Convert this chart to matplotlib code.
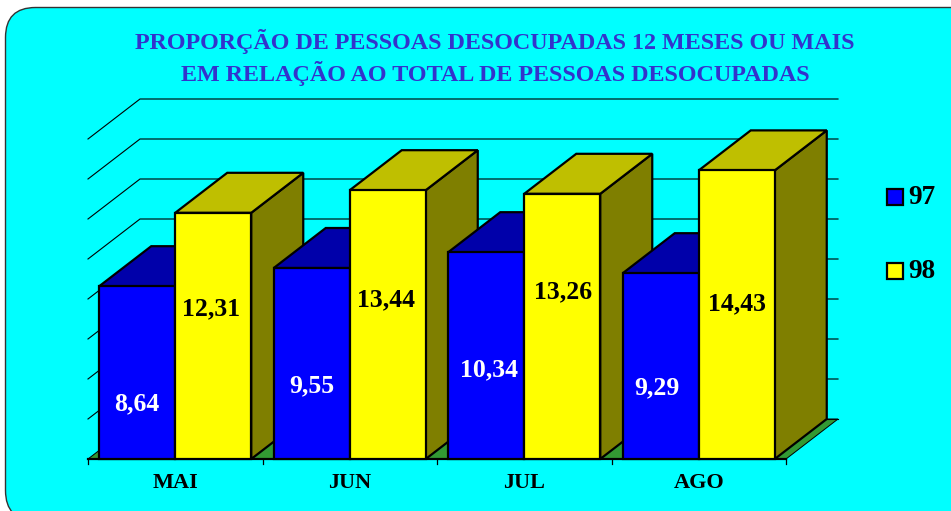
import matplotlib
matplotlib.use("Agg")
import matplotlib.pyplot as plt
from matplotlib.patches import FancyBboxPatch, Polygon

plt.rcParams["font.family"] = ["Liberation Serif", "DejaVu Serif"]

meses = ["MAI", "JUN", "JUL", "AGO"]
serie_97 = [8.64, 9.55, 10.34, 9.29]
serie_98 = [12.31, 13.44, 13.26, 14.43]
nomes = ["97", "98"]
grid_vals = [0, 2, 4, 6, 8, 10, 12, 14, 16]

# where the labels sit inside the bars (value units, offset in categories)
label_y_97 = [2.75, 3.68, 4.47, 3.55]
label_y_98 = [7.52, 7.95, 8.35, 7.75]
label_dx_97 = [-0.005, 0.0, 0.015, -0.02]
label_dx_98 = [-0.01, -0.01, 0.005, 0.0]

W, H = 951, 511
BAR_W = 76 / 174.5
DX = 52 / 174.5  # depth in category units
DY = 2.0         # depth in value units

fig = plt.figure(figsize=(W / 100, H / 100), dpi=100, facecolor="white")

# rounded panel behind everything
bg = fig.add_axes([0, 0, 1, 1])
bg.set_xlim(0, W)
bg.set_ylim(H, 0)
bg.axis("off")
bg.add_patch(FancyBboxPatch((5.5, 7.5), W + 40, H + 2, boxstyle="round,pad=0,rounding_size=30",
                            fc="#00FFFF", ec="#333333", lw=1.0))

# plot axes: x in categories, y in values
ax = fig.add_axes([88 / W, (H - 459) / H, 698 / W, 320 / H])
ax.set_xlim(0, 4)
ax.set_ylim(0, 16)
ax.axis("off")


def box(x, w, v, front, top, side, z):
    ax.add_patch(Polygon([(x + w, 0), (x + w + DX, DY), (x + w + DX, v + DY), (x + w, v)],
                         fc=side, ec="black", lw=1.6, zorder=z, clip_on=False, joinstyle="miter"))
    ax.add_patch(Polygon([(x, v), (x + w, v), (x + w + DX, v + DY), (x + DX, v + DY)],
                         fc=top, ec="black", lw=1.6, zorder=z, clip_on=False, joinstyle="miter"))
    ax.add_patch(Polygon([(x, 0), (x + w, 0), (x + w, v), (x, v)],
                         fc=front, ec="black", lw=1.6, zorder=z, clip_on=False, joinstyle="miter"))


# floor and gridlines
ax.add_patch(Polygon([(0, 0), (4, 0), (4 + DX, DY), (DX, DY)], fc="#339933", ec="black", lw=0.7,
                     zorder=1, clip_on=False))
for g in grid_vals[1:]:
    ax.plot([0, DX, 4 + DX], [g, g + DY, g + DY], color="black", lw=0.8, zorder=1.5, clip_on=False)
ax.plot([DX, 4 + DX], [DY, DY], color="black", lw=0.8, zorder=1.5, clip_on=False)

# axis line and ticks
ax.plot([0, 4], [0, 0], color="black", lw=1.6, zorder=1.6, clip_on=False)
for i in range(5):
    ax.plot([i, i], [0, -0.27], color="black", lw=0.9, zorder=1.6, clip_on=False)

# bars, left to right so later ones cover the sides of earlier ones
for i in range(len(meses)):
    c = i + 0.5
    box(c - BAR_W, BAR_W, serie_97[i], "#0000FF", "#0000AA", "#00007F", 2 + i)
    box(c, BAR_W, serie_98[i], "#FFFF00", "#BFBF00", "#7F7F00", 2.5 + i)
    ax.text(c - BAR_W / 2 + label_dx_97[i], label_y_97[i], f"{serie_97[i]:.2f}".replace(".", ","),
            color="white", fontsize=18.5, fontweight="bold", ha="center", va="center", zorder=10)
    ax.text(c + BAR_W / 2 + label_dx_98[i], label_y_98[i], f"{serie_98[i]:.2f}".replace(".", ","),
            color="black", fontsize=18.5, fontweight="bold", ha="center", va="center", zorder=10)
    ax.text(c, -1.22, meses[i], color="black", fontsize=16, fontweight="bold", ha="center", va="center")

# title
bg.text(495, 41, "PROPORÇÃO DE PESSOAS DESOCUPADAS 12 MESES OU MAIS", color="#3333CC",
        fontsize=17.4, fontweight="bold", ha="center", va="center")
bg.text(495, 73, "EM RELAÇÃO AO TOTAL DE PESSOAS DESOCUPADAS", color="#3333CC",
        fontsize=17.4, fontweight="bold", ha="center", va="center")

# legend
for nome, cor, yy in zip(nomes, ["#0000FF", "#FFFF00"], [197, 271]):
    bg.add_patch(plt.Rectangle((887, yy - 8), 16, 16, fc=cor, ec="black", lw=1.6))
    bg.text(908.5, yy, nome, color="black", fontsize=19.5, fontweight="bold", ha="left", va="center")

fig.savefig("out.png", dpi=100, facecolor="white")
